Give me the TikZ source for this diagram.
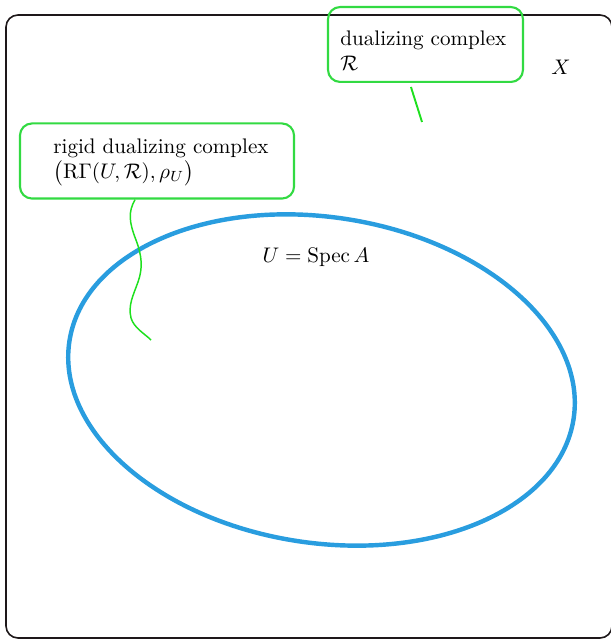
\documentclass[tikz,border=0pt]{standalone}
\usetikzlibrary{calc}
\definecolor{frameblack}{RGB}{30,24,26}
\definecolor{boxgreen}{RGB}{50,218,66}
\definecolor{linegreen}{RGB}{30,224,30}
\definecolor{ellblue}{RGB}{41,157,223}
\tikzset{
  frame/.style={draw=frameblack, line width=0.75pt, rounded corners=5.7pt},
  gbox/.style={draw=boxgreen, line width=1pt, rounded corners=5.7pt, inner sep=0pt},
  gline/.style={draw=linegreen, line width=0.9pt},
  wline/.style={draw=linegreen, line width=0.7pt},
  ell/.style={draw=ellblue, line width=2.1pt},
  txt/.style={inner sep=0pt, font=\normalsize}
}
\begin{document}
\begin{tikzpicture}[x=0.474pt, y=-0.474pt]
\useasboundingbox (0,0) rectangle (610,639);
% outer space X
\draw[frame] (6,15) rectangle (612,638);
% ellipse U
\begin{scope}[shift={(321.5,380)}, rotate=-8.8]
  \draw[ell] (0,0) ellipse [x radius=120.9pt, y radius=77.2pt];
\end{scope}
% boxes
\node[gbox, minimum width=129.9pt, minimum height=35.6pt] (box1) at (157,161) {};
\node[txt, align=left, anchor=north west] (t1) at (53,138) {rigid dualizing complex\\$\bigl(\mathrm{R}\Gamma(U,\mathcal{R}),\rho_U\bigr)$};
\node[gbox, minimum width=92.4pt, minimum height=35.5pt] (box2) at (425.5,44.5) {};
\node[txt, align=left, anchor=north west] (t2) at (340,30.5) {dualizing complex\\$\mathcal{R}$};
% labels
\node[txt] (X) at (561,67) {$X$};
\node[txt, anchor=base] (U) at (316,263) {$U=\mathrm{Spec}\,A$};
% connectors
\coordinate (p2) at (422,122);
\coordinate (p1) at (151,340);
\draw[gline] ([xshift=-6.9pt, yshift=-1.9pt]box2.south) -- (p2);
\draw[wline] ([xshift=-10.4pt]box1.south) .. controls (128,212) and (129,222) .. (136,240)
  .. controls (142,256) and (143,268) .. (138,282)
  .. controls (133,296) and (128,305) .. (131,318)
  .. controls (134,328) and (145,334) .. (p1);
\end{tikzpicture}
\end{document}
